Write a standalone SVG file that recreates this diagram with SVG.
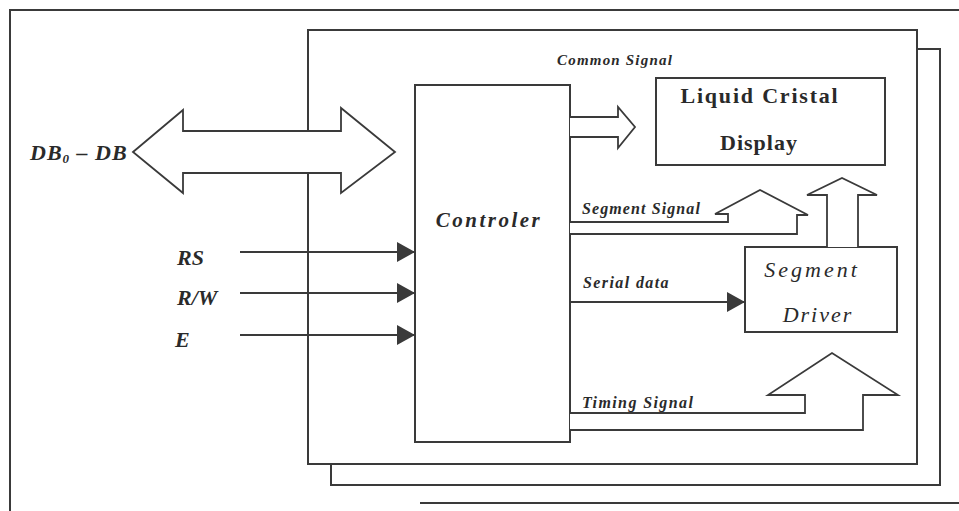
<svg xmlns="http://www.w3.org/2000/svg" width="959" height="511" viewBox="0 0 959 511">
<defs>
<style>
.ln{fill:none;stroke:#3a3a3a;stroke-width:2}
.box{fill:#fff;stroke:#3a3a3a;stroke-width:2}
.hol{fill:#fff;stroke:#3a3a3a;stroke-width:1.8;stroke-linejoin:miter}
.sig{font-family:"Liberation Serif",serif;font-style:italic;font-weight:bold;fill:#2a2a2a}
.ttl{font-family:"Liberation Serif",serif;font-style:normal;font-weight:bold;fill:#2a2a2a}
.lbl{font-family:"Liberation Serif",serif;font-style:italic;font-weight:bold;fill:#2a2a2a;font-size:22px}
.nm{font-family:"Liberation Serif",serif;font-style:italic;fill:#2a2a2a}
</style>
<marker id="ah" markerWidth="18" markerHeight="20" refX="18" refY="10" orient="auto" markerUnits="userSpaceOnUse">
<path d="M0,0 L18,10 L0,20 Z" fill="#3a3a3a"/>
</marker>
</defs>
<rect width="959" height="511" fill="#fff"/>
<g id="outer-frame">
<path class="ln" d="M10,511 L10,10 L959,10"/>
<path class="ln" d="M420,503 L959,503"/>
</g>
<g id="module-back">
<path class="ln" d="M917,49 L940,49 L940,485 L331,485 L331,464"/>
</g>
<g id="module">
<rect class="box" x="308" y="30" width="609" height="434"/>
</g>
<g id="controller">
<rect class="box" x="415" y="85" width="155" height="357"/>
<text class="nm" x="489" y="227" font-size="21" font-weight="bold" text-anchor="middle" letter-spacing="2.5">Controler</text>
</g>
<g id="lcd">
<rect class="box" x="656" y="78" width="229" height="87"/>
<text class="ttl" x="760" y="103" font-size="22" text-anchor="middle" letter-spacing="1.8">Liquid Cristal</text>
<text class="ttl" x="759" y="150" font-size="22" text-anchor="middle" letter-spacing="1">Display</text>
</g>
<g id="segment-driver">
<rect class="box" x="745" y="247" width="152" height="85"/>
<text class="nm" x="812" y="277" font-size="22" text-anchor="middle" letter-spacing="3">Segment</text>
<text class="nm" x="818" y="322" font-size="22" text-anchor="middle" letter-spacing="2">Driver</text>
</g>
<g id="connectors">
<polygon class="hol" points="133,152 183,110 183,131 341,131 341,108 395,152 341,193 341,173 183,173 183,193"/>
<path class="hol" d="M570,117 L618,117 L618,107 L635,127 L618,148 L618,137 L570,137"/>
<path class="hol" d="M570,222 L728,222 L728,214 L715,214 L760,190 L808,215 L797,215 L797,234 L570,234"/>
<path class="hol" d="M570,413 L805,413 L805,395 L768,395 L832,353 L898,395 L863,395 L863,430 L570,430"/>
<path class="hol" d="M827,247 L827,195 L807,195 L842,178 L877,195 L858,195 L858,247"/>
<line class="ln" x1="240" y1="252" x2="415" y2="252" marker-end="url(#ah)"/>
<line class="ln" x1="240" y1="293" x2="415" y2="293" marker-end="url(#ah)"/>
<line class="ln" x1="240" y1="335" x2="415" y2="335" marker-end="url(#ah)"/>
<line class="ln" x1="570" y1="302" x2="745" y2="302" marker-end="url(#ah)"/>
</g>
<g id="labels">
<text class="sig" x="30" y="160" font-size="22" letter-spacing="1">DB<tspan font-size="13" dy="3">0</tspan><tspan dy="-3"> – DB</tspan></text>
<text class="lbl" x="177" y="265">RS</text>
<text class="lbl" x="177" y="305">R/W</text>
<text class="lbl" x="175" y="347">E</text>
<text class="sig" x="557" y="65" font-size="15" letter-spacing="1.2">Common Signal</text>
<text class="sig" x="582" y="214" font-size="16" letter-spacing="1.1">Segment Signal</text>
<text class="sig" x="583" y="288" font-size="16" letter-spacing="1.4">Serial data</text>
<text class="sig" x="582" y="408" font-size="16" letter-spacing="1.4">Timing Signal</text>
</g>
</svg>
